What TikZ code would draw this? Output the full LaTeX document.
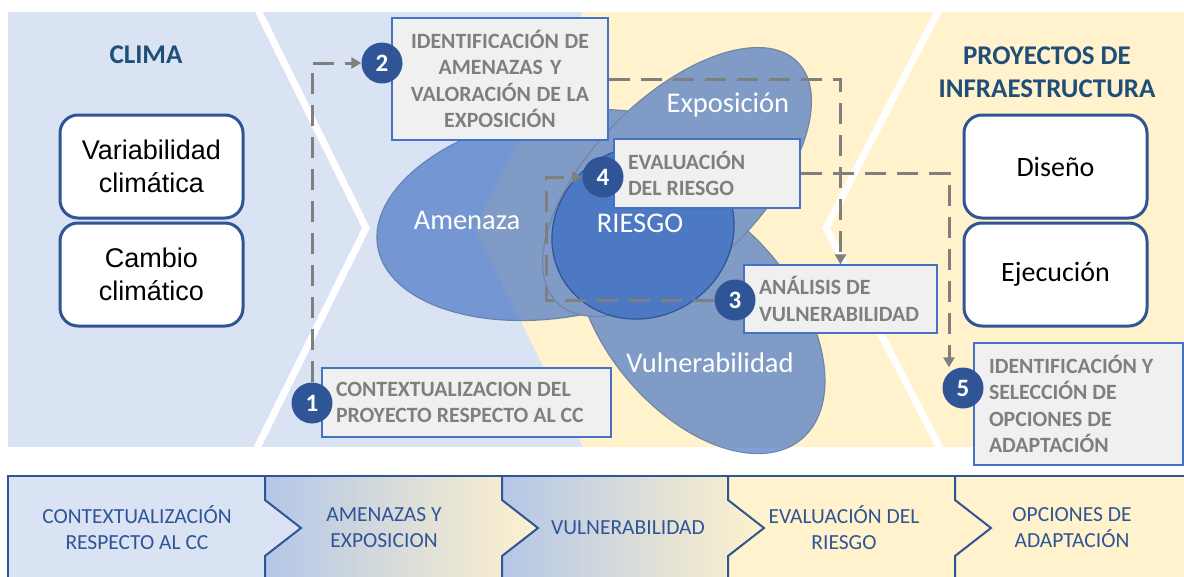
\documentclass[tikz,border=0pt]{standalone}
\usepackage{fontspec}
\setmainfont{Carlito}
\newfontfamily\arialfont{Liberation Sans}
\usetikzlibrary{arrows.meta}

\definecolor{bandblue}{HTML}{DAE3F3}
\definecolor{bandyellow}{HTML}{FFF2CC}
\definecolor{navy}{HTML}{2F5597}
\definecolor{titleblue}{HTML}{1F4E79}
\definecolor{stepgray}{HTML}{7F7F7F}
\definecolor{stepfill}{HTML}{F0F0F0}
\definecolor{petalblue}{HTML}{4472C4}
\definecolor{barblue}{HTML}{B4C7E7}
\definecolor{peach}{HTML}{F7D3C6}

\begin{document}
\begin{tikzpicture}[x=1pt, y=-1pt,
        every node/.append style={execute at begin node={\spaceskip=0pt\xspaceskip=0pt}},
        title/.style={text=titleblue, font=\bfseries\fontsize{27}{33}\selectfont, align=center},
        phase/.style={draw=navy, line width=3pt, fill=white, rounded corners=18pt, minimum width=183pt, minimum height=103pt, align=center},
        petalshape/.style={fill=petalblue, draw=navy, line width=1.2pt},
        petaltxt/.style={text=white, font=\fontsize{28.5}{32}\selectfont},
        stepbox/.style={draw=petalblue, line width=1.3pt, fill=stepfill, text=stepgray, font=\bfseries\fontsize{21.8}{26.5}\selectfont, inner ysep=0pt},
        num/.style={circle, fill=navy, minimum size=41pt, inner sep=0pt, text=white, font=\bfseries\fontsize{25}{25}\selectfont},
        flow/.style={draw=stepgray, line width=3pt, dash pattern=on 21pt off 11pt, -{Triangle[length=10pt,width=11pt]}},
        bartxt/.style={text=navy, font=\fontsize{21.5}{26}\selectfont, align=center}
    ]
        \useasboundingbox (0,0) rectangle (1184,576);

        \fill[bandblue] (8,12) rectangle (1184,447);
        \fill[bandyellow] (583,12) -- (475,228) -- (583,447) -- (1184,447) -- (1184,12) -- cycle;
        \begin{scope}
            \clip (8,12) rectangle (1184,447);
            \draw[white, line width=7pt] (253,0) -- (366,228) -- (253,456);
            \draw[white, line width=7pt] (944,0) -- (826,228) -- (944,456);
        \end{scope}

        \node[title] (clima) at (146,55) {CLIMA};
        \node[title] (proy) at (1047,72.5) {PROYECTOS DE\\INFRAESTRUCTURA};

        \node[phase, font=\arialfont\fontsize{27}{33}\selectfont] (var) at (151.5,166.5) {Variabilidad\\climática};
        \node[phase, font=\arialfont\fontsize{27}{33}\selectfont] (cam) at (151.5,274.5) {Cambio\\climático};
        \node[phase, font=\fontsize{28}{33}\selectfont] (dis) at (1055.5,166.5) {Diseño};
        \node[phase, font=\fontsize{28}{33}\selectfont] (eje) at (1055.5,274.5) {Ejecución};

        \begin{scope}[transparency group, opacity=0.68]
            \draw[petalshape, rotate around={10:(560,215)}] (560,215) ellipse [x radius=185, y radius=102];
            \draw[petalshape, rotate around={-50:(700,318)}] (700,318) ellipse [x radius=158, y radius=95];
            \draw[petalshape, rotate around={45:(677,182)}] (677,182) ellipse [x radius=170, y radius=85];
        \end{scope}
        \draw[petalshape, fill opacity=0.85, rotate around={30:(643,232)}] (643,232) ellipse [x radius=93, y radius=85];

        \node[petaltxt] (amen) at (467,220) {Amenaza};
        \node[petaltxt] (expo) at (728,105) {Exposición};
        \node[petaltxt] (ries) at (640,223) {RIESGO};
        \node[petaltxt] (vuln) at (710,363) {Vulnerabilidad};

        \node[stepbox, minimum width=216pt, minimum height=122pt, text width=204pt, inner xsep=6pt, align=center] (b2) at (500,79) {IDENTIFICACIÓN DE\\AMENAZAS Y\\VALORACIÓN DE LA\\EXPOSICIÓN};
        \node[stepbox, minimum height=69pt, text width=158pt, inner xsep=14pt, align=left] (b4) at (707,173.5) {EVALUACIÓN\\DEL RIESGO};
        \node[stepbox, minimum height=68pt, text width=163pt, inner xsep=15pt, align=left] (b3) at (840.5,299) {ANÁLISIS DE\\VULNERABILIDAD};
        \node[stepbox, minimum height=69pt, text width=261pt, inner xsep=14pt, align=left] (b1) at (466.5,402.5) {CONTEXTUALIZACION DEL\\PROYECTO RESPECTO AL CC};
        \node[stepbox, minimum height=122pt, text width=179pt, inner xsep=15pt, align=left] (b5) at (1078.5,404) {IDENTIFICACIÓN Y\\SELECCIÓN DE\\OPCIONES DE\\ADAPTACIÓN};

        \foreach \n/\x/\y in {1/312/403, 2/382/63, 3/735/300, 4/603/177, 5/963/388} {
            \node[num] (c\n) at (\x,\y) {\n};
        }

        \draw[flow] (c1.north) |- (c2.west);
        \draw[flow] (b2.east) -| (b3.north);
        \draw[flow] (c3.west) -- ++(-168,0) |- (c4.west);
        \draw[flow] (b4.east) -| ([xshift=-14pt]c5.north);

        \fill[bandblue] (8,476) -- (265,476) -- (265,500) -- (301,528) -- (265,556) -- (265,580) -- (8,580) -- cycle;
        \shade[left color=barblue, middle color=peach, right color=bandyellow] (265,476) -- (502,476) -- (502,500) -- (538,528) -- (502,556) -- (502,580) -- (265,580) -- (265,556) -- (301,528) -- (265,500) -- cycle;
        \shade[left color=barblue, middle color=peach, right color=bandyellow] (502,476) -- (728,476) -- (728,500) -- (764,528) -- (728,556) -- (728,580) -- (502,580) -- (502,556) -- (538,528) -- (502,500) -- cycle;
        \fill[bandyellow] (728,476) -- (1184,476) -- (1184,580) -- (728,580) -- (728,556) -- (764,528) -- (728,500) -- cycle;
        \draw[navy, line width=2pt] (8,580) -- (8,476) -- (1184,476);
        \foreach \s in {265,502,728,955} {
            \draw[navy, line width=2pt] (\s,476) -- (\s,500) -- (\s+36,528) -- (\s,556) -- (\s,580);
        }

        \node[bartxt] (t1) at (137,528) {CONTEXTUALIZACIÓN\\RESPECTO AL CC};
        \node[bartxt] (t2) at (384,528) {AMENAZAS Y\\EXPOSICION};
        \node[bartxt] (t3) at (628,528) {VULNERABILIDAD};
        \node[bartxt] (t4) at (844,528) {EVALUACIÓN DEL\\RIESGO};
        \node[bartxt] (t5) at (1072,528) {OPCIONES DE\\ADAPTACIÓN};

    \end{tikzpicture}
\end{document}
